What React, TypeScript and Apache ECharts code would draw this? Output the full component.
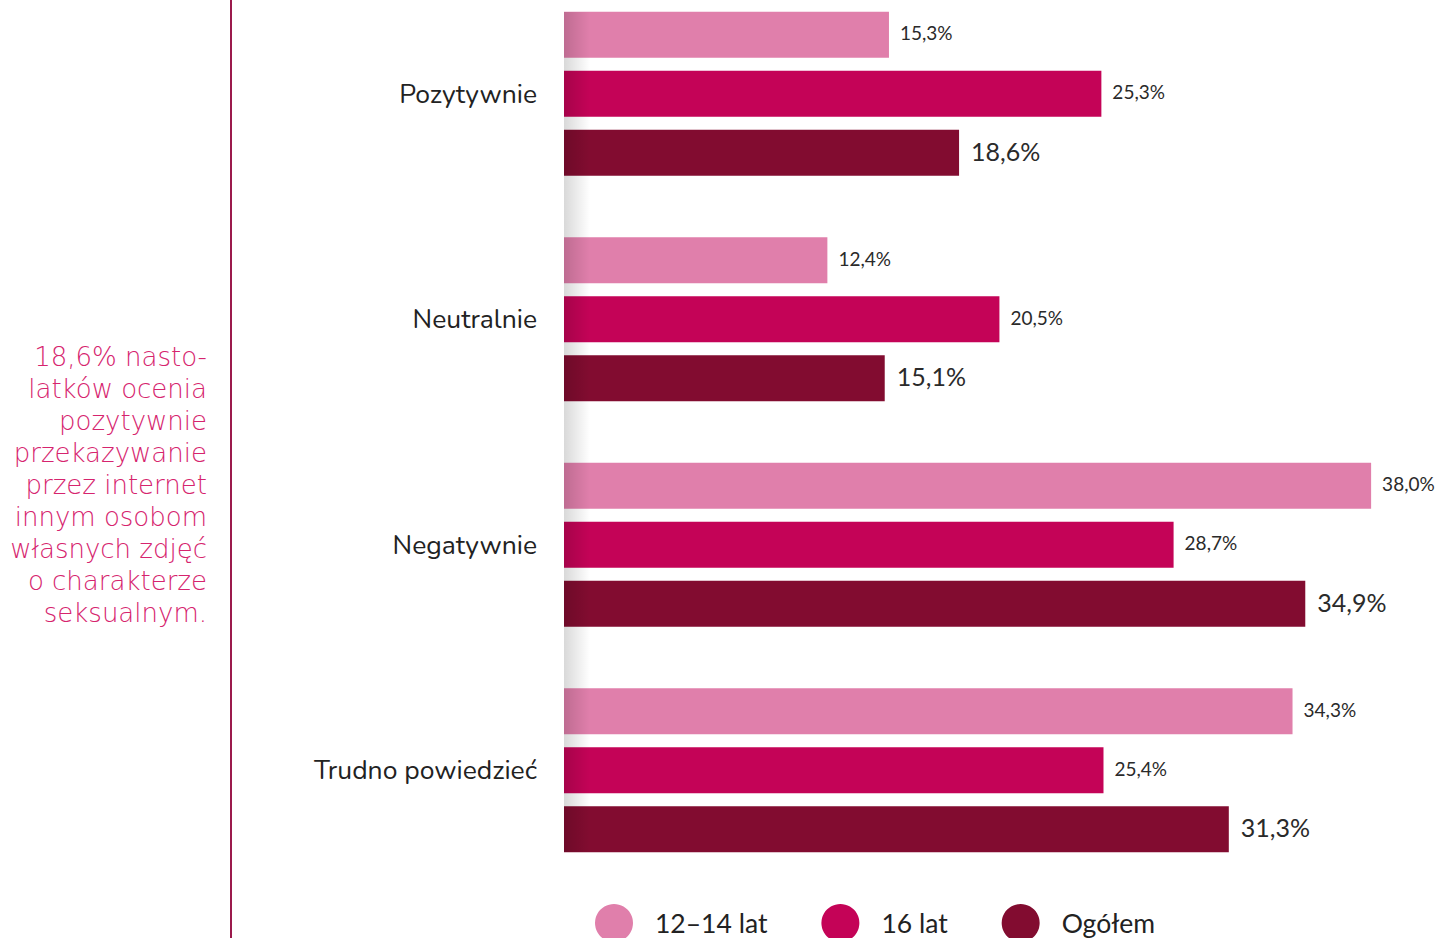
import React, { useEffect, useRef } from "react";
import * as echarts from "echarts";

const categories = ["Pozytywnie", "Neutralnie", "Negatywnie", "Trudno powiedzieć"];
const seriesNames = ["12–14 lat", "16 lat", "Ogółem"];
const values1214 = [15.3, 12.4, 38.0, 34.3];
const values16 = [25.3, 20.5, 28.7, 25.4];
const valuesTotal = [18.6, 15.1, 34.9, 31.3];
const colors = ["#e07fab", "#c40357", "#820c30"];
const sideNote = [
  "18,6% nasto-",
  "latków ocenia",
  "pozytywnie",
  "przekazywanie",
  "przez internet",
  "innym osobom",
  "własnych zdjęć",
  "o charakterze",
  "seksualnym.",
];

const fmt = (v: number) => v.toFixed(1).replace(".", ",") + "%";
const SHIFT = 19;

export default function App() {
  const ref = useRef<HTMLDivElement>(null);
  useEffect(() => {
    if (!ref.current) return;
    const chart = echarts.init(ref.current, null, { renderer: "svg" });
    const data = [values1214, values16, valuesTotal];
    const series = data.map((vals, i) => ({
      name: seriesNames[i],
      type: "bar",
      data: vals,
      barWidth: 46,
      barGap: "28%",
      itemStyle: { color: colors[i] },
      label: {
        show: true,
        position: "right",
        distance: i === 2 ? 12 : 11,
        offset: [0, -2],
        formatter: (p: any) => fmt(p.value),
        fontSize: i === 2 ? 25 : 19,
        color: "#2a2a2a",
        fontFamily: "Lato, 'Open Sans', sans-serif",
      },
    }));
    chart.setOption({
      animation: false,
      backgroundColor: "#ffffff",
      grid: { left: 564, right: 26.4, top: 0, bottom: 55, containLabel: false },
      xAxis: {
        type: "value",
        min: 0,
        max: 40,
        show: false,
      },
      yAxis: {
        type: "category",
        data: categories,
        inverse: true,
        axisLine: { show: false },
        axisTick: { show: false },
        splitLine: { show: false },
        axisLabel: {
          margin: 27,
          fontSize: 26.5,
          color: "#222222",
          fontFamily: "Nunito, 'Open Sans', Lato, sans-serif",
        },
      },
      legend: {
        left: 595,
        top: 904 + SHIFT,
        padding: 0,
        icon: "circle",
        itemWidth: 38,
        itemHeight: 38,
        itemGap: 54,
        textStyle: {
          fontSize: 26.5,
          color: "#222222",
          fontFamily: "Lato, sans-serif",
          padding: [0, 0, 0, 17],
        },
        data: seriesNames,
      },
      series,
      graphic: [
        {
          type: "rect",
          shape: { x: 564, y: 12 + SHIFT, width: 26, height: 840 },
          style: {
            fill: new echarts.graphic.LinearGradient(0, 0, 1, 0, [
              { offset: 0, color: "rgba(0,0,0,0.15)" },
              { offset: 1, color: "rgba(0,0,0,0)" },
            ]),
          },
          z: 100,
          silent: true,
        },
        {
          type: "rect",
          shape: { x: 230, y: 0, width: 2, height: 938 + SHIFT },
          style: { fill: "#9b1a4c" },
          silent: true,
        },
        {
          type: "text",
          x: 207,
          y: 341 + SHIFT,
          style: {
            text: sideNote.join("\n"),
            align: "right",
            verticalAlign: "top",
            lineHeight: 32,
            fontSize: 26,
            fontWeight: 200,
            fill: "#d6246e",
            fontFamily: "'DejaVu Sans', 'Noto Sans', sans-serif",
          },
        },
      ],
    });
    return () => chart.dispose();
  }, []);
  return (
    <div
      ref={ref}
      style={{ position: "fixed", left: 0, top: -SHIFT, width: 1440, height: 938 + SHIFT }}
    />
  );
}
